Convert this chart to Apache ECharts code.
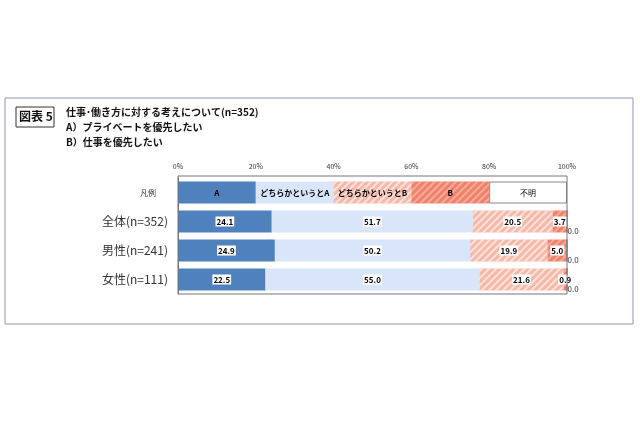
<!DOCTYPE html><html><head><meta charset="utf-8"><script src="https://cdn.jsdelivr.net/npm/echarts@6/dist/echarts.min.js"></script></head><body style="margin:0"><div id="c" style="width:640px;height:426px"></div><script>
var categories=['凡例','全体(n=352)','男性(n=241)','女性(n=111)'];
var seriesNames=['A','どちらかというとA','どちらかというとB','B','不明'];
var valA=[20,24.1,24.9,22.5];
var valLA=[20,51.7,50.2,55.0];
var valLB=[20,20.5,19.9,21.6];
var valB=[20,3.7,5.0,0.9];
var valN=[20,0.0,0.0,0.0];
var ticks=['0%','20%','40%','60%','80%','100%'];
var vals=[valA,valLA,valLB,valB,valN];
var colors=['#4f81bd','#d9e5f8','#f6b8a8','#f08068','#ffffff'];
var chart=echarts.init(document.getElementById('c'));
var F='"Noto Sans CJK JP",sans-serif';
var series=vals.map(function(v,i){
 var it={color:colors[i],borderColor:i===4?'#888':'transparent',borderWidth:i===4?1:0};
 if(i===2||i===3){it.decal={symbol:'rect',dashArrayX:[1,0],dashArrayY:[2,3],rotation:-Math.PI/4,color:i===3?'rgba(255,255,255,0.35)':'rgba(255,255,255,0.6)'};}
 return {name:seriesNames[i],type:'bar',stack:'s',barWidth:22,
  data:v.map(function(x){return {value:x};}),
  itemStyle:it,
  label:{show:true,position:i===4?'right':'inside',fontFamily:F,fontSize:8,fontWeight:'bold',color:'#000',
   backgroundColor:'#fff',padding:[1,1],
   offset:i===4?[-6,9]:[0,0],
   formatter:function(p){
    if(p.dataIndex===0){return seriesNames[i];}
    return p.value.toFixed(1);
   }}
 };
});
series.forEach(function(s,i){
 s.data[0].label={position:'inside',offset:[0,0],backgroundColor:'transparent',fontWeight:i===4?'normal':'bold'};
 if(i===4){for(var j=1;j<4;j++){s.data[j].label={backgroundColor:'transparent',fontWeight:'normal',color:'#333'};}}
});
chart.setOption({
 animation:false,
 grid:{left:178,right:73,top:178,bottom:132,containLabel:false},
 xAxis:{type:'value',min:0,max:100,interval:20,position:'top',
  axisLabel:{fontSize:7,color:'#333',fontFamily:F,formatter:function(v){return ticks[Math.round(v/20)];}},
  splitLine:{show:false},axisLine:{show:false},axisTick:{show:false}},
 yAxis:{type:'category',inverse:true,data:categories,
  axisLine:{show:true,lineStyle:{color:'#777'}},axisTick:{show:false},
  axisLabel:{fontFamily:F,color:'#333',margin:10,
   formatter:function(v,i){return i===0?'{s|'+v+'}':'{b|'+v+'}';},
   rich:{s:{fontSize:8,padding:[0,12,0,0]},b:{fontSize:12}}}},
 series:series,
 graphic:[
  {type:'rect',shape:{x:5,y:98,width:628,height:226},style:{fill:'none',stroke:'#8a96b8',lineWidth:1}},
  {type:'rect',shape:{x:16,y:107,width:38,height:20},style:{fill:'none',stroke:'#333',lineWidth:1}},
  {type:'text',left:19,top:110,style:{text:'図表 5',fontSize:12,fontWeight:'bold',fontFamily:F,fill:'#111'}},
  {type:'text',left:66,top:105,style:{text:'仕事･働き方に対する考えについて(n=352)\nA）プライベートを優先したい\nB）仕事を優先したい',fontSize:10,lineHeight:15,fontWeight:'bold',fontFamily:F,fill:'#111'}},
  {type:'rect',shape:{x:178,y:176,width:389,height:118},style:{fill:'none',stroke:'#777',lineWidth:1},z:10}
 ]
});
</script></body></html>
